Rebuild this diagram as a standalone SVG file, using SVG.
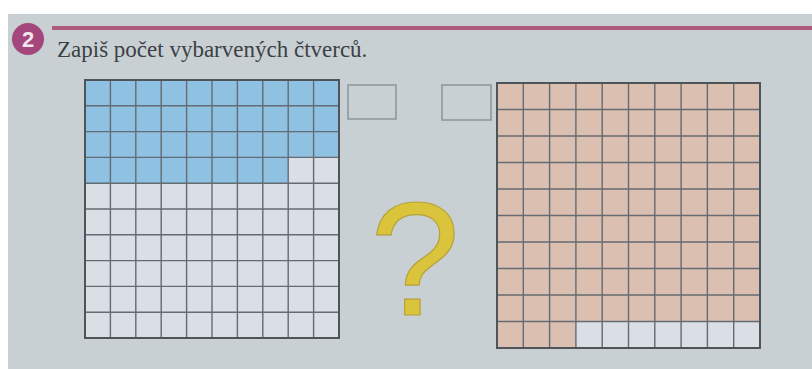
<svg xmlns="http://www.w3.org/2000/svg" width="812" height="369" viewBox="0 0 812 369">
<style>
.grid{fill:none;stroke:#656b72;stroke-width:1.4}
.frame{fill:none;stroke:#4f5459;stroke-width:2}
.box{fill:none;stroke:#8d9499;stroke-width:1.5}
.title{font-family:"Liberation Serif","Times New Roman",serif;font-size:23px;fill:#3b4143}
</style>
<rect x="0" y="0" width="812" height="369" fill="#ffffff"/>
<rect x="8" y="14" width="804" height="355" fill="#c9d0d4"/>
<g id="header">
<line x1="52" y1="28" x2="812" y2="28" stroke="#ad5a7c" stroke-width="4"/>
<circle cx="28" cy="39" r="16" fill="#a3477c"/>
<text x="28" y="47" text-anchor="middle" font-family="Liberation Sans, Arial, sans-serif" font-weight="bold" font-size="22" fill="#f4e6ee">2</text>
<text class="title" x="57" y="57">Zapiš počet vybarvených čtverců.</text>
</g>
<g id="grid-left">
<rect x="85" y="80" width="254" height="258" fill="#d9dfe4"/>
<rect x="85" y="80" width="254" height="77.4" fill="#8fc1e2"/>
<rect x="85" y="157.4" width="203.2" height="25.8" fill="#8fc1e2"/>
<path class="grid" d="M110.4 80V338M135.8 80V338M161.2 80V338M186.6 80V338M212 80V338M237.4 80V338M262.8 80V338M288.2 80V338M313.6 80V338M85 105.8H339M85 131.6H339M85 157.4H339M85 183.2H339M85 209H339M85 234.8H339M85 260.6H339M85 286.4H339M85 312.2H339"/>
<rect class="frame" x="85" y="80" width="254" height="258"/>
</g>
<g id="answer-left">
<rect class="box" x="348" y="85" width="48" height="34"/>
</g>
<g id="answer-right">
<rect class="box" x="442" y="85" width="49" height="35"/>
</g>
<g id="question">
<text x="415" y="315" text-anchor="middle" font-family="Liberation Sans, Arial, sans-serif" font-size="162" fill="#d9c43c" stroke="#b5a23a" stroke-width="1.2">?</text>
</g>
<g id="grid-right">
<rect x="497" y="83" width="263" height="265" fill="#d9dfe4"/>
<rect x="497" y="83" width="263" height="238.5" fill="#dbbfb0"/>
<rect x="497" y="321.5" width="78.9" height="26.5" fill="#dbbfb0"/>
<path class="grid" d="M523.3 83V348M549.6 83V348M575.9 83V348M602.2 83V348M628.5 83V348M654.8 83V348M681.1 83V348M707.4 83V348M733.7 83V348M497 109.5H760M497 136H760M497 162.5H760M497 189H760M497 215.5H760M497 242H760M497 268.5H760M497 295H760M497 321.5H760"/>
<rect class="frame" x="497" y="83" width="263" height="265"/>
</g>
</svg>
